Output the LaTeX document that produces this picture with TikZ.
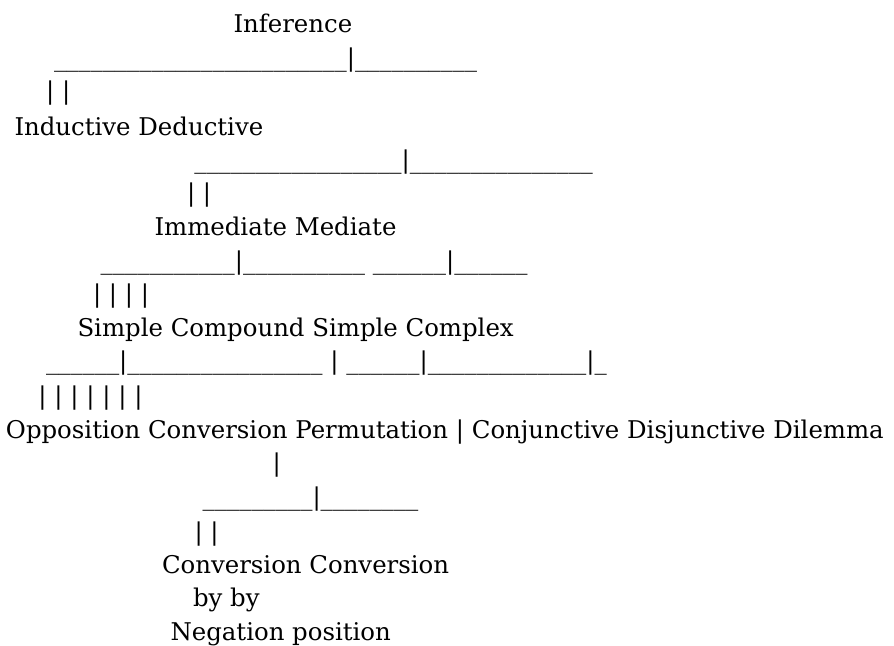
\documentclass[tikz,border=0pt]{standalone}
\usepackage{fontspec}
\setmainfont{DejaVu Serif}
\usepackage{tikz}
\usepackage{xcolor}

\newcommand\unders[1]{\foreach \k in {1,...,#1}{\_}}

\tikzset{row/.style={anchor=base west, inner sep=0pt, outer sep=0pt,
                     font=\fontsize{18.3pt}{22pt}\selectfont}}

\begin{document}
\begin{tikzpicture}[x=0.75pt, y=-0.75pt]
\useasboundingbox (0,0) rectangle (894,646);
\node [row] (inference) at (233.5,32) {Inference};
\node [row] (bar1) at (54,66) {\unders{24}|\unders{10}};
\node [row] (stem1) at (46.2,99.5) {| |};
\node [row] (indded) at (14.5,135) {Inductive Deductive};
\node [row] (bar2) at (194.3,168) {\unders{17}|\unders{15}};
\node [row] (stem2) at (187,201) {| |};
\node [row] (immmed) at (154.5,235) {Immediate Mediate};
\node [row] (bar3) at (100.7,269) {\unders{11}|\unders{10} \unders{6}|\unders{6}};
\node [row] (stem3) at (93,302.5) {| | | |};
\node [row] (simple) at (77.5,336.5) {Simple Compound Simple Complex};
\node [row] (bar4) at (46,369) {\unders{6}|\unders{16} | \unders{6}|\unders{13}|\unders{1}};
\node [row] (stem4) at (38.5,404) {| | | | | | |};
\node [row] (kinds) at (6,438) {Opposition Conversion Permutation | Conjunctive Disjunctive Dilemma};
\node [row] (stem5) at (272.5,471.5) {|};
\node [row] (bar5) at (202.7,505.5) {\unders{9}|\unders{8}};
\node [row] (stem6) at (194.5,540) {| |};
\node [row] (conv) at (162,573) {Conversion Conversion};
\node [row] (byby) at (193,606) {by by};
\node [row] (negpos) at (170.5,640) {Negation position};
\end{tikzpicture}
\end{document}
